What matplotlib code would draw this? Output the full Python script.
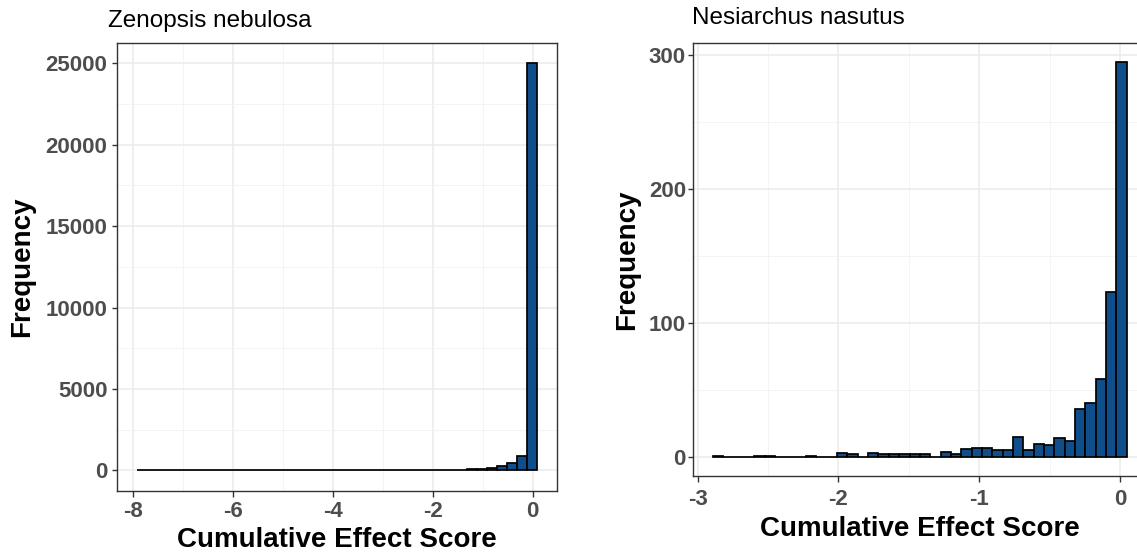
import numpy as np
import matplotlib.pyplot as plt
from matplotlib.ticker import MultipleLocator

plt.rcParams['font.family'] = ['Liberation Sans', 'DejaVu Sans']
plt.rcParams['axes.unicode_minus'] = False

# Zenopsis nebulosa: 40 bins of width 0.2 starting at -7.91
zen_start = -7.91
zen_width = 0.2
zen_counts = [1, 0, 0, 0, 0, 0, 0, 0, 0, 0,
              0, 0, 0, 0, 1, 1, 1, 1, 1, 2,
              2, 2, 3, 3, 4, 5, 6, 8, 10, 13,
              18, 25, 35, 55, 85, 130, 260, 450, 900, 25000]

# Nesiarchus nasutus: 40 bins of width 0.0734 starting at -2.89
nes_start = -2.89
nes_width = 0.0734
nes_counts = [1, 0, 0, 0, 1, 1, 0, 0, 0, 1,
              0, 0, 3, 2, 0, 3, 2, 2, 2, 2,
              2, 0, 4, 2, 6, 7, 7, 5, 5, 15,
              5, 10, 9, 14, 12, 36, 40, 58, 123, 295]

titles = ['Zenopsis nebulosa', 'Nesiarchus nasutus']

W, H = 1137, 555
fig = plt.figure(figsize=(W / 100, H / 100), dpi=100)

def px_axes(l, t, r, b):
    return fig.add_axes([l / W, 1 - b / H, (r - l) / W, (b - t) / H])

fill = '#104E8B'
tick_col = '#4D4D4D'

def style(ax, xmajor, ymajor, xpad, ypad):
    ax.set_facecolor('white')
    ax.xaxis.set_major_locator(MultipleLocator(xmajor))
    ax.xaxis.set_minor_locator(MultipleLocator(xmajor / 2))
    ax.yaxis.set_major_locator(MultipleLocator(ymajor))
    ax.yaxis.set_minor_locator(MultipleLocator(ymajor / 2))
    ax.grid(which='major', color='#EBEBEB', lw=1.1)
    ax.grid(which='minor', color='#F2F2F2', lw=0.6)
    ax.set_axisbelow(True)
    for s in ax.spines.values():
        s.set_color('#333333')
        s.set_linewidth(1.0)
    ax.tick_params(which='minor', length=0)
    ax.tick_params(axis='x', which='major', length=4.3, width=1, color='#333333',
                   labelsize=16, labelcolor=tick_col, pad=xpad)
    ax.tick_params(axis='y', which='major', length=3.5, width=1, color='#333333',
                   labelsize=16, labelcolor=tick_col, pad=ypad)
    for lab in ax.get_xticklabels() + ax.get_yticklabels():
        lab.set_fontweight('bold')

# left panel
ax1 = px_axes(117.3, 43.3, 556.7, 490.7)
edges1 = zen_start + zen_width * np.arange(len(zen_counts) + 1)
ax1.bar(edges1[:-1], zen_counts, width=zen_width, align='edge',
        color=fill, edgecolor='black', linewidth=1.25)
ax1.set_xlim(-8.31, 0.48)
ax1.set_ylim(-1250, 26225)
style(ax1, 2, 5000, 3.0, 3.6)
ax1.text(-0.217, 0.5, 'Frequency', transform=ax1.transAxes, rotation=90,
         ha='center', va='center', fontsize=20, fontweight='bold')
ax1.text(0.5, -0.081, 'Cumulative Effect Score', transform=ax1.transAxes,
         ha='center', va='top', fontsize=20, fontweight='bold')
fig.text(108 / W, 1 - 26.5 / H, titles[0], fontsize=17.5, ha='left', va='baseline')

# right panel (its right edge runs past the figure)
ax2 = px_axes(693.3, 42.7, 1147, 476)
edges2 = nes_start + nes_width * np.arange(len(nes_counts) + 1)
ax2.bar(edges2[:-1], nes_counts, width=nes_width, align='edge',
        color=fill, edgecolor='black', linewidth=1.25)
ax2.set_xlim(-3.03, 0.19)
ax2.set_ylim(-14.2, 309.5)
style(ax2, 1, 100, 5.3, 1.8)
ax2.text(-0.145, 0.498, 'Frequency', transform=ax2.transAxes, rotation=90,
         ha='center', va='center', fontsize=20, fontweight='bold')
ax2.text(0.5, -0.092, 'Cumulative Effect Score', transform=ax2.transAxes,
         ha='center', va='top', fontsize=20, fontweight='bold')
fig.text(692 / W, 1 - 24.5 / H, titles[1], fontsize=17.5, ha='left', va='baseline')

fig.savefig('out.png', dpi=100)
